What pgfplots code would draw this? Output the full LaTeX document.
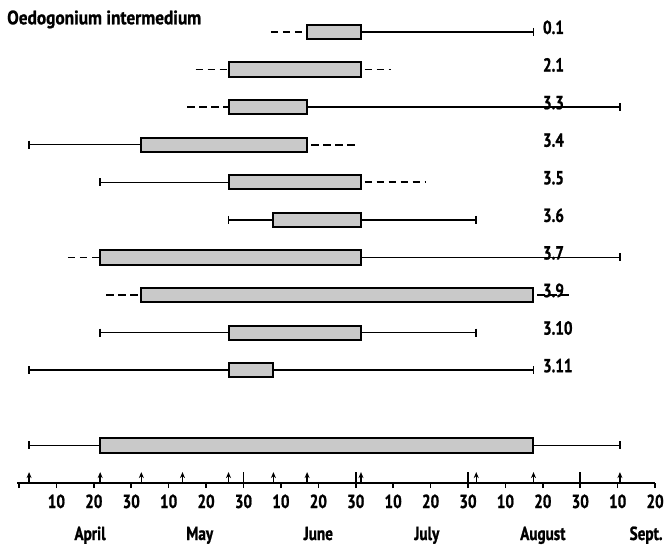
\documentclass[border=0pt]{standalone}
\usepackage{pgfplots}
\pgfplotsset{compat=1.18}
\usepackage{fontspec}
\setmainfont{PT Sans}
\newfontfamily\ttlfont{PT Sans}[FakeStretch=0.89, FakeBold=1]
\newfontfamily\numfont{PT Sans}[FakeStretch=0.8, FakeBold=1]
\usetikzlibrary{arrows.meta}
\begin{document}
\begin{tikzpicture}
\begin{axis}[
  scale only axis, width=638bp, height=469.8bp,
  xmin=-0.5, xmax=170, ymin=-12, ymax=0.5,
  axis x line*=bottom, axis y line=none,
  x axis line style={line width=2.2bp, black},
  xtick={0,10,...,170},
  xticklabels={,10,20,30,10,20,30,10,20,30,10,20,30,10,20,30,10,20},
  tick align=outside, major tick length=5bp,
  tick style={line width=1.6bp, black},
  xticklabel style={font=\numfont\bfseries\fontsize{19}{19}\selectfont, anchor=base, yshift=-20bp},
  extra x ticks={60,90,120,150}, extra x tick labels={},
  extra x tick style={tick align=inside, major tick length=11bp},
  clip=false,
  box/.style={draw=black, line width=2bp, fill=black!21},
  wh/.style={black, line width=1.5bp},
  dl/.style={black, line width=1.7bp, dash pattern=on 7.5bp off 4.5bp},
  dr/.style={black, line width=1.7bp, dash pattern=on 7.5bp off 4.5bp, dash phase=8bp},
]
\coordinate (O) at (rel axis cs:0,0);
% row 0.1
\addplot[dl] coordinates {(67.3,0) (77,0)};
\addplot[wh] coordinates {(91.3,0) (137.5,0)};
\addplot[box] coordinates {(77,-0.19) (91.3,-0.19) (91.3,0.19) (77,0.19)} -- cycle;
% row 2.1
\addplot[dl] coordinates {(47.2,-1) (56,-1)};
\addplot[dr] coordinates {(91.3,-1) (99.5,-1)};
\addplot[box] coordinates {(56,-1.19) (91.3,-1.19) (91.3,-0.81) (56,-0.81)} -- cycle;
% row 3.3
\addplot[dl] coordinates {(45,-2) (56,-2)};
\addplot[wh] coordinates {(77,-2) (160.6,-2)};
\addplot[box] coordinates {(56,-2.19) (77,-2.19) (77,-1.81) (56,-1.81)} -- cycle;
% row 3.4
\addplot[wh] coordinates {(2.7,-3) (32.7,-3)};
\addplot[dr] coordinates {(77,-3) (90,-3)};
\addplot[box] coordinates {(32.7,-3.19) (77,-3.19) (77,-2.81) (32.7,-2.81)} -- cycle;
% row 3.5
\addplot[wh] coordinates {(21.7,-4) (56,-4)};
\addplot[dr] coordinates {(91.3,-4) (108.6,-4)};
\addplot[box] coordinates {(56,-4.19) (91.3,-4.19) (91.3,-3.81) (56,-3.81)} -- cycle;
% row 3.6
\addplot[wh] coordinates {(56,-5) (68,-5)};
\addplot[wh] coordinates {(91.3,-5) (122.2,-5)};
\addplot[box] coordinates {(68,-5.19) (91.3,-5.19) (91.3,-4.81) (68,-4.81)} -- cycle;
% row 3.7
\addplot[dl] coordinates {(13.1,-6) (21.7,-6)};
\addplot[wh] coordinates {(91.3,-6) (160.6,-6)};
\addplot[box] coordinates {(21.7,-6.19) (91.3,-6.19) (91.3,-5.81) (21.7,-5.81)} -- cycle;
% row 3.9
\addplot[dl] coordinates {(23.3,-7) (32.7,-7)};
\addplot[dr] coordinates {(137.5,-7) (147.7,-7)};
\addplot[box] coordinates {(32.7,-7.19) (137.5,-7.19) (137.5,-6.81) (32.7,-6.81)} -- cycle;
% row 3.10
\addplot[wh] coordinates {(21.7,-8) (56,-8)};
\addplot[wh] coordinates {(91.3,-8) (122.2,-8)};
\addplot[box] coordinates {(56,-8.19) (91.3,-8.19) (91.3,-7.81) (56,-7.81)} -- cycle;
% row 3.11
\addplot[wh] coordinates {(2.7,-9) (56,-9)};
\addplot[wh] coordinates {(68,-9) (137.5,-9)};
\addplot[box] coordinates {(56,-9.19) (68,-9.19) (68,-8.81) (56,-8.81)} -- cycle;
% total
\addplot[wh] coordinates {(2.7,-11) (21.7,-11)};
\addplot[wh] coordinates {(137.5,-11) (160.6,-11)};
\addplot[box] coordinates {(21.7,-11.2) (137.5,-11.2) (137.5,-10.8) (21.7,-10.8)} -- cycle;
% caps
\addplot[only marks, mark=|, mark size=4bp, mark options={line width=1.6bp, black}] coordinates {
 (137.5,0) (160.6,-2) (2.7,-3) (21.7,-4) (56,-5) (122.2,-5) (160.6,-6)
 (21.7,-8) (122.2,-8) (2.7,-9) (137.5,-9) (2.7,-11) (160.6,-11)};
% arrows on the time axis
\addplot[black, line width=1.4bp, -{Stealth[length=6bp,width=5bp]}, quiver={u=0, v=0.29}] coordinates {
 (2.7,-12) (21.7,-12) (32.7,-12) (43.7,-12) (56,-12) (68,-12) (77,-12) (91.4,-12) (122.2,-12) (137.5,-12) (160.6,-12)};
% row labels
\begin{scope}[every node/.style={anchor=base west, font=\numfont\bfseries\fontsize{19}{19}\selectfont, inner sep=0pt}]
\node at (axis cs:140,0) [yshift=-2bp] {0.1};
\node at (axis cs:140,-1) [yshift=-2bp] {2.1};
\node at (axis cs:140,-2) [yshift=-2bp] {3.3};
\node at (axis cs:140,-3) [yshift=-2bp] {3.4};
\node at (axis cs:140,-4) [yshift=-2bp] {3.5};
\node at (axis cs:140,-5) [yshift=-2bp] {3.6};
\node at (axis cs:140,-6) [yshift=-2bp] {3.7};
\node at (axis cs:140,-7) [yshift=-2bp] {3.9};
\node at (axis cs:140,-8) [yshift=-2bp] {3.10};
\node at (axis cs:140,-9) [yshift=-2bp] {3.11};
\end{scope}
% month labels
\begin{scope}[every node/.style={anchor=base, font=\numfont\bfseries\fontsize{19}{19}\selectfont, inner sep=0pt}]
\node at (axis cs:19,-12) [yshift=-57bp] {April};
\node at (axis cs:48.3,-12) [yshift=-57bp] {May};
\node at (axis cs:80,-12) [yshift=-57bp] {June};
\node at (axis cs:109,-12) [yshift=-57bp] {July};
\node at (axis cs:140,-12) [yshift=-57bp] {August};
\node at (axis cs:167.6,-12) [yshift=-57bp] {Sept.};
\end{scope}
\node[anchor=base west, inner sep=0pt, font=\ttlfont\bfseries\fontsize{19.5}{19.5}\selectfont] at ([shift={(-10.1bp,458.7bp)}]O) {Oedogonium intermedium};
\end{axis}
\pgfresetboundingbox
\path[use as bounding box] ([shift={(-17.1bp,483bp)}]O) rectangle ([shift={(652.9bp,-63bp)}]O);
\end{tikzpicture}
\end{document}
